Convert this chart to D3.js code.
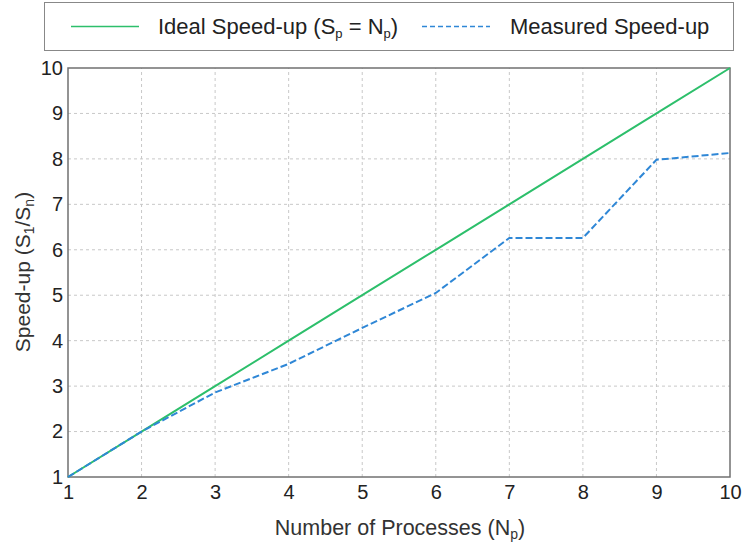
<!DOCTYPE html>
<html>
<head>
<meta charset="utf-8">
<script src="https://cdn.jsdelivr.net/npm/d3@7"></script>
<style>
  html, body { margin: 0; padding: 0; background: #fff; }
  svg { display: block; font-family: "Liberation Sans", Arial, sans-serif; }
</style>
</head>
<body>
<svg id="chart" width="743" height="547"></svg>
<script>
// Process counts and speed-up figures
const processes = [1, 2, 3, 4, 5, 6, 7, 8, 9, 10];
const idealSpeedup = [1, 2, 3, 4, 5, 6, 7, 8, 9, 10];
const measuredSpeedup = [1, 2, 2.86, 3.49, 4.28, 5.05, 6.26, 6.26, 7.98, 8.13];
const xTicks = [1, 2, 3, 4, 5, 6, 7, 8, 9, 10];
const yTicks = [1, 2, 3, 4, 5, 6, 7, 8, 9, 10];

const svg = d3.select("#chart");
const margin = { left: 68, right: 13, top: 68, bottom: 70 };
const W = 743, H = 547;

const x = d3.scaleLinear().domain([1, 10]).range([margin.left, W - margin.right]);
const y = d3.scaleLinear().domain([1, 10]).range([H - margin.bottom, margin.top]);

const green = "#2dbf6b";
const blue = "#2f87d6";
const ink = "#222";

// grid lines
const grid = svg.append("g");
grid.selectAll("line.gx").data(xTicks.slice(1, -1)).join("line")
  .attr("x1", d => x(d)).attr("x2", d => x(d))
  .attr("y1", y(1)).attr("y2", y(10))
  .attr("stroke", "#c8c8c8").attr("stroke-width", 1).attr("stroke-dasharray", "3,3");
grid.selectAll("line.gy").data(yTicks.slice(1, -1)).join("line")
  .attr("y1", d => y(d)).attr("y2", d => y(d))
  .attr("x1", x(1)).attr("x2", x(10))
  .attr("stroke", "#c8c8c8").attr("stroke-width", 1).attr("stroke-dasharray", "3,3");

// plot frame
svg.append("rect")
  .attr("x", x(1)).attr("y", y(10))
  .attr("width", x(10) - x(1)).attr("height", y(1) - y(10))
  .attr("fill", "none").attr("stroke", "#707070").attr("stroke-width", 1.5);

// axes (labels only)
const xAxis = svg.append("g").attr("transform", `translate(0,${y(1)})`)
  .call(d3.axisBottom(x).tickValues(xTicks).tickFormat(d3.format("d")).tickSize(0).tickPadding(8));
const yAxis = svg.append("g").attr("transform", `translate(${x(1)},0)`)
  .call(d3.axisLeft(y).tickValues(yTicks).tickFormat(d3.format("d")).tickSize(0).tickPadding(5));
[xAxis, yAxis].forEach(a => {
  a.select(".domain").remove();
  a.selectAll("text").attr("font-size", 20).attr("fill", ink)
    .attr("font-family", "\"Liberation Sans\", Arial, sans-serif");
});

// lines
const line = d3.line().x((d, i) => x(processes[i])).y(d => y(d));
svg.append("path").datum(idealSpeedup)
  .attr("d", line).attr("fill", "none").attr("stroke", green).attr("stroke-width", 2);
svg.append("path").datum(measuredSpeedup)
  .attr("d", line).attr("fill", "none").attr("stroke", blue).attr("stroke-width", 2)
  .attr("stroke-dasharray", "7,3");

// axis titles
const xt = svg.append("text").attr("x", 400).attr("y", 535)
  .attr("text-anchor", "middle").attr("font-size", 21.5).attr("fill", "#333");
xt.append("tspan").text("Number of Processes (N");
xt.append("tspan").attr("font-size", 14).attr("dy", 4).text("p");
xt.append("tspan").attr("dy", -4).text(")");

const yt = svg.append("text")
  .attr("transform", `translate(30,272) rotate(-90)`)
  .attr("text-anchor", "middle").attr("font-size", 21).attr("fill", "#333");
yt.append("tspan").text("Speed-up (S");
yt.append("tspan").attr("font-size", 14).attr("dy", 4).text("1");
yt.append("tspan").attr("dy", -4).text("/S");
yt.append("tspan").attr("font-size", 14).attr("dy", 4).text("n");
yt.append("tspan").attr("dy", -4).text(")");

// legend
const lg = svg.append("g");
lg.append("rect").attr("x", 44.5).attr("y", 2.5).attr("width", 689).attr("height", 48)
  .attr("fill", "#fff").attr("stroke", "#888").attr("stroke-width", 1);
lg.append("line").attr("x1", 71).attr("x2", 139).attr("y1", 26.5).attr("y2", 26.5)
  .attr("stroke", green).attr("stroke-width", 1.5);
const l1 = lg.append("text").attr("x", 158).attr("y", 34).attr("font-size", 22).attr("fill", ink);
l1.append("tspan").text("Ideal Speed-up (S");
l1.append("tspan").attr("font-size", 13).attr("dy", 4).text("p");
l1.append("tspan").attr("dy", -4).text(" = N");
l1.append("tspan").attr("font-size", 13).attr("dy", 4).text("p");
l1.append("tspan").attr("dy", -4).text(")");
lg.append("line").attr("x1", 422).attr("x2", 490).attr("y1", 26.5).attr("y2", 26.5)
  .attr("stroke", blue).attr("stroke-width", 1.5).attr("stroke-dasharray", "5,3");
lg.append("text").attr("x", 510).attr("y", 34).attr("font-size", 22).attr("fill", ink)
  .text("Measured Speed-up");
</script>
</body>
</html>
